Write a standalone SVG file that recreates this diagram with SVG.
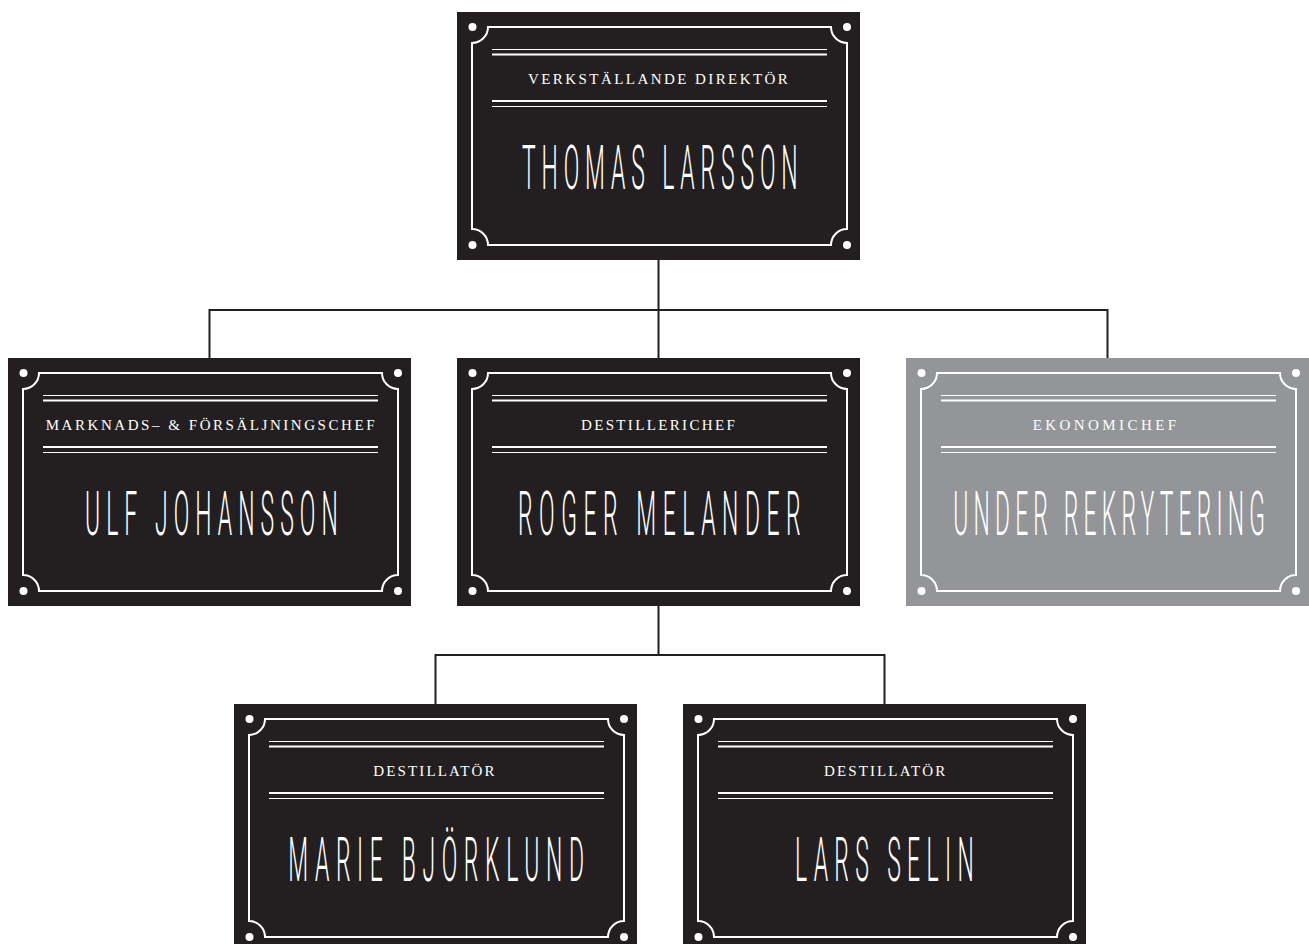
<svg xmlns="http://www.w3.org/2000/svg" xmlns:xlink="http://www.w3.org/1999/xlink" width="1309" height="944" viewBox="0 0 1309 944">
<style>
.box{fill:#231f20}
.grey{fill:#939598}
.frame{fill:none;stroke:#ffffff;stroke-width:2}
.l1{stroke:#ffffff;stroke-width:1.2}
.l2{stroke:#ffffff;stroke-width:2}
.dot{fill:#ffffff}
.title{font-family:"Liberation Serif","DejaVu Serif",serif;font-size:15px;fill:#ffffff;letter-spacing:2.2px}
.name{font-family:Roboto,"Liberation Sans",sans-serif;font-weight:300;font-size:62px;fill:#ffffff;letter-spacing:17px}
.conn{fill:none;stroke:#231f20;stroke-width:2}
</style>
<defs>
<g id="plate">
<path class="frame" d="M31,15 H374 A16,16 0 0 0 390,31 V217 A16,16 0 0 0 374,233 H31 A16,16 0 0 0 15,217 V31 A16,16 0 0 0 31,15 Z"/>
<line class="l1" x1="35" y1="37.5" x2="370" y2="37.5"/>
<line class="l2" x1="35" y1="42.5" x2="370" y2="42.5"/>
<line class="l2" x1="35" y1="89" x2="370" y2="89"/>
<line class="l1" x1="35" y1="94.5" x2="370" y2="94.5"/>
<circle class="dot" cx="15.5" cy="15" r="4"/>
<circle class="dot" cx="390" cy="15" r="4"/>
<circle class="dot" cx="15.5" cy="233" r="4"/>
<circle class="dot" cx="390" cy="233" r="4"/>
</g>
</defs>
<g id="connectors">
<path class="conn" d="M658.5,260 V310 M209.5,358 V310 H1107.5 V358 M658.5,310 V358"/>
<path class="conn" d="M658.5,606 V655 M435.5,704 V655 H884.5 V704"/>
</g>
<g id="node-ceo">
<rect class="box" x="457" y="12" width="403" height="248"/>
<use xlink:href="#plate" transform="translate(457,12)"/>
<text class="title" x="528" y="83.5" textLength="262" lengthAdjust="spacing">VERKSTÄLLANDE DIREKTÖR</text>
<g transform="translate(522,188.5) scale(0.37,1)"><text class="name" x="0" y="0" textLength="762" lengthAdjust="spacing">THOMAS LARSSON</text></g>
</g>
<g id="node-marketing">
<rect class="box" x="8" y="358" width="403" height="248"/>
<use xlink:href="#plate" transform="translate(8,358)"/>
<text class="title" x="45.7" y="429.5" textLength="331" lengthAdjust="spacing">MARKNADS– &amp; FÖRSÄLJNINGSCHEF</text>
<g transform="translate(85,534.5) scale(0.37,1)"><text class="name" x="0" y="0" textLength="700" lengthAdjust="spacing">ULF JOHANSSON</text></g>
</g>
<g id="node-distillery">
<rect class="box" x="457" y="358" width="403" height="248"/>
<use xlink:href="#plate" transform="translate(457,358)"/>
<text class="title" x="581" y="429.5" textLength="156" lengthAdjust="spacing">DESTILLERICHEF</text>
<g transform="translate(518,534.5) scale(0.37,1)"><text class="name" x="0" y="0" textLength="781" lengthAdjust="spacing">ROGER MELANDER</text></g>
</g>
<g id="node-finance">
<rect class="grey" x="906" y="358" width="403" height="248"/>
<use xlink:href="#plate" transform="translate(906,358)"/>
<text class="title" x="1032.7" y="429.5" textLength="145.6" lengthAdjust="spacing">EKONOMICHEF</text>
<g transform="translate(953.3,534.5) scale(0.37,1)"><text class="name" x="0" y="0" textLength="859" lengthAdjust="spacing">UNDER REKRYTERING</text></g>
</g>
<g id="node-distiller-1">
<rect class="box" x="234" y="704" width="403" height="248"/>
<use xlink:href="#plate" transform="translate(234,704)"/>
<text class="title" x="373.3" y="775.5" textLength="123.4" lengthAdjust="spacing">DESTILLATÖR</text>
<g transform="translate(288.3,880.5) scale(0.37,1)"><text class="name" x="0" y="0" textLength="816" lengthAdjust="spacing">MARIE BJÖRKLUND</text></g>
</g>
<g id="node-distiller-2">
<rect class="box" x="683" y="704" width="403" height="248"/>
<use xlink:href="#plate" transform="translate(683,704)"/>
<text class="title" x="824" y="775.5" textLength="123.4" lengthAdjust="spacing">DESTILLATÖR</text>
<g transform="translate(795,880.5) scale(0.37,1)"><text class="name" x="0" y="0" textLength="500" lengthAdjust="spacing">LARS SELIN</text></g>
</g>
</svg>
